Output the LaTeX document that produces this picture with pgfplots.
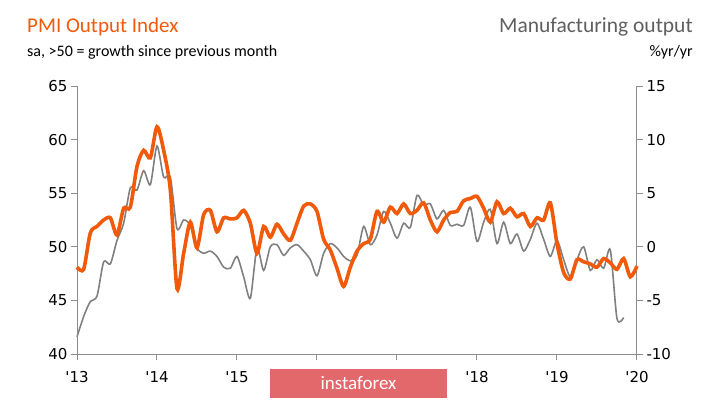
\documentclass[border=0pt]{standalone}
\usepackage{pgfplots}
\pgfplotsset{compat=1.18}
\usepackage{fontspec}
\setmainfont{Carlito}
\newfontfamily\tickfont{DejaVu Sans}
\definecolor{pmiorange}{RGB}{240,90,10}
\definecolor{mfgray}{RGB}{128,128,128}
\definecolor{axgray}{RGB}{140,140,140}
\definecolor{titlegray}{RGB}{95,95,95}
\definecolor{wmred}{RGB}{226,104,108}

\pgfplotstableread{
m v
0 -8.4
1 -6.5
2 -5.1
3 -4.6
4 -1.4
5 -1.6
6 0.6
7 2.2
8 5.5
9 5.3
10 7.1
11 5.8
12 9.4
13 6.5
14 6.5
15 1.7
16 2.5
17 2.0
18 -0.1
19 -0.6
20 -0.4
21 -0.9
22 -1.9
23 -2.0
24 -0.9
25 -2.8
26 -4.8
27 -0.1
28 -2.2
29 0.0
30 0.2
31 -0.8
32 -0.1
33 0.2
34 -0.4
35 -1.2
36 -2.7
37 -0.6
38 0.3
39 -0.1
40 -0.9
41 -1.3
42 -0.8
43 1.9
44 0.2
45 1.1
46 3.3
47 2.2
48 0.8
49 2.2
50 1.8
51 4.8
52 3.9
53 4.0
54 2.6
55 3.4
56 2.0
57 2.1
58 2.0
59 3.7
60 0.5
61 2.3
62 3.5
63 0.3
64 2.3
65 0.3
66 1.2
67 -0.4
68 0.7
69 2.2
70 0.7
71 -0.9
72 0.6
73 -1.2
74 -2.8
75 -1.2
76 0.0
77 -2.2
78 -1.2
79 -2.0
80 -0.3
81 -6.7
82 -6.6
}\mfg

\pgfplotstableread{
m v
0 48.1
1 47.9
2 51.3
3 51.9
4 52.5
5 52.7
6 51.1
7 53.6
8 53.7
9 57.5
10 59.0
11 58.3
12 61.2
13 59.0
14 55.3
15 46.1
16 49.4
17 52.3
18 49.9
19 53.0
20 53.4
21 51.4
22 52.7
23 52.6
24 52.7
25 53.4
26 52.2
27 49.4
28 51.9
29 50.9
30 52.1
31 51.2
32 50.6
33 52.2
34 53.8
35 54.0
36 53.3
37 50.7
38 49.7
39 48.0
40 46.3
41 48.1
42 49.6
43 50.3
44 50.7
45 53.3
46 52.3
47 53.7
48 53.1
49 54.0
50 53.1
51 53.4
52 54.1
53 52.5
54 51.4
55 52.5
56 53.2
57 53.3
58 54.3
59 54.5
60 54.7
61 53.6
62 52.3
63 54.2
64 53.1
65 53.6
66 52.8
67 53.1
68 51.9
69 52.7
70 52.5
71 54.1
72 50.3
73 47.6
74 47.0
75 48.8
76 48.6
77 48.4
78 48.1
79 48.9
80 48.5
81 47.9
82 48.9
83 47.2
84 48.2
}\pmi

\begin{document}
\begin{tikzpicture}[x=1pt,y=1pt]
\useasboundingbox (0,0) rectangle (713,400);
% right axis: manufacturing output
\begin{axis}[at={(77pt,46pt)}, anchor=south west,
  width=560pt, height=268pt, scale only axis,
  xmin=0, xmax=84, ymin=-10, ymax=15,
  axis x line=none, axis y line=right,
  axis line style={-, draw=axgray, line width=1pt},
  ytick={-10,-5,0,5,10,15},
  tick style={draw=axgray, line width=1pt},
  major tick length=6pt, tick align=outside,
  tick label style={font=\tickfont\fontsize{15}{15}\selectfont, text=black},
  /pgf/number format/assume math mode=true,
  clip=false]
\addplot[mfgray, line width=1.6pt, smooth, tension=0.45] table[x=m,y=v] {\mfg};
\end{axis}
% left axis: PMI
\begin{axis}[at={(77pt,46pt)}, anchor=south west,
  width=560pt, height=268pt, scale only axis,
  xmin=0, xmax=84, ymin=40, ymax=65,
  axis x line=bottom, axis y line=left,
  axis line style={-, draw=axgray, line width=1pt},
  ytick={40,45,50,55,60,65},
  xtick={0,12,24,36,48,60,72,84},
  xticklabels={\textquotesingle13,\textquotesingle14,\textquotesingle15,{},{},\textquotesingle18,\textquotesingle19,\textquotesingle20},
  xticklabel style={yshift=-8pt},
  tick style={draw=axgray, line width=1pt},
  major tick length=6pt, tick align=outside,
  tick label style={font=\tickfont\fontsize{15}{15}\selectfont, text=black},
  /pgf/number format/assume math mode=true,
  clip=false]
\addplot[pmiorange, line width=3.6pt, smooth, tension=0.45] table[x=m,y=v] {\pmi};
\end{axis}
% titles
\node[anchor=base west, inner sep=0, text=pmiorange, font=\fontsize{21}{21}\selectfont] at (27,367) {PMI Output Index};
\node[anchor=base west, inner sep=0, text=black, font=\fontsize{16}{16}\selectfont] at (27,343) {sa, >50 = growth since previous month};
\node[anchor=base east, inner sep=0, text=titlegray, font=\fontsize{21.5}{21.5}\selectfont] at (693,367) {Manufacturing output};
\node[anchor=base east, inner sep=0, text=black, font=\fontsize{16}{16}\selectfont] at (693,343) {\%yr/yr};
% watermark
\fill[wmred] (270,2) rectangle (447,31);
\node[text=white, font=\fontsize{19}{19}\selectfont] at (358.5,16.5) {instaforex};
\end{tikzpicture}
\end{document}
